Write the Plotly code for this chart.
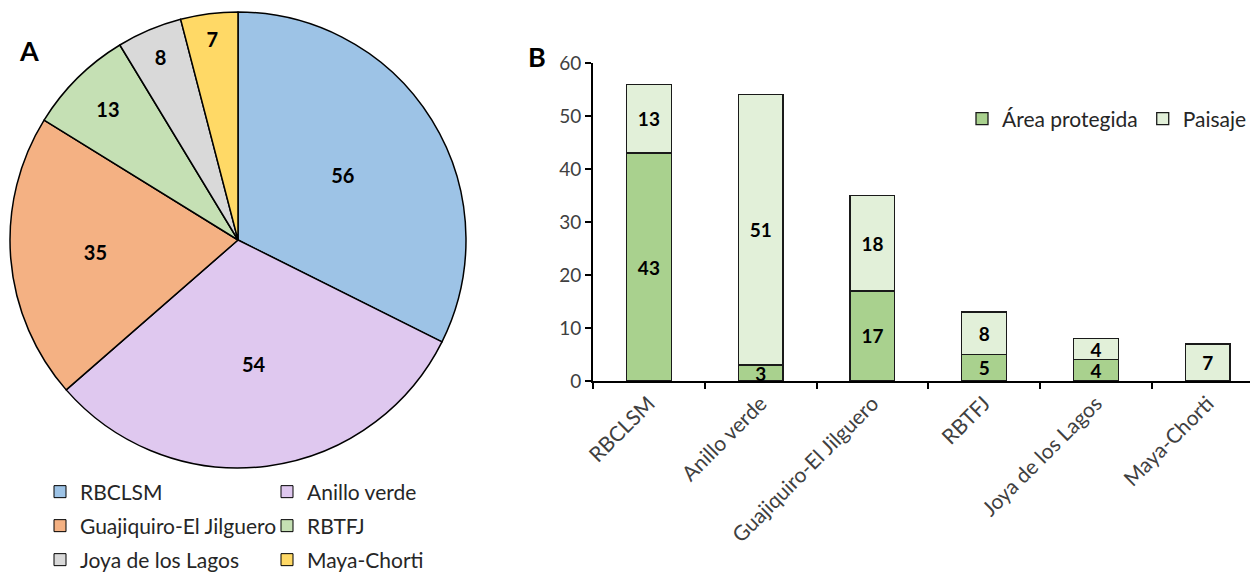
import plotly.graph_objects as go

# ---- data ----
sites = ["RBCLSM", "Anillo verde", "Guajiquiro-El Jilguero", "RBTFJ",
         "Joya de los Lagos", "Maya-Chorti"]
totals = [56, 54, 35, 13, 8, 7]
pie_colors = ["#9DC3E6", "#DFC8EF", "#F4B183", "#C5E0B4", "#D9D9D9", "#FFD966"]
protegida = [43, 3, 17, 5, 4, 0]
paisaje = [13, 51, 18, 8, 4, 7]
series_names = ["Área protegida", "Paisaje"]
series_colors = ["#A9D18E", "#E2F0D9"]
y_ticks = [0, 10, 20, 30, 40, 50, 60]

# page body has an 8px margin, so the figure is drawn 8px smaller
OFF = 8
W, H = 1258 - OFF, 572 - OFF
FONT = "Lato"


def px(x):
    return (x - OFF) / W


def py(y):
    return 1 - (y - OFF) / H


fig = go.Figure()

# ---- Pie (panel A) ----
fig.add_trace(go.Pie(
    labels=sites, values=totals, sort=False, direction="clockwise", rotation=0,
    marker=dict(colors=pie_colors, line=dict(color="black", width=1.5)),
    textinfo="value", textposition="inside", insidetextorientation="horizontal",
    textfont=dict(size=20, color="black", family=FONT, weight="bold"),
    domain=dict(x=[px(10), px(466)], y=[py(468), py(12)]),
    showlegend=False, hoverinfo="label+value",
))

# legend entries for the pie, two per row
legend_rows = ["legend2", "legend3", "legend4"]
for i, (s, c) in enumerate(zip(sites, pie_colors)):
    fig.add_trace(go.Bar(
        x=[None], y=[None], name=s, marker=dict(color=c, line=dict(color="black", width=1)),
        legend=legend_rows[i // 2], xaxis="x2", yaxis="y2", showlegend=True,
    ))

# ---- Stacked bars (panel B) ----
for name, vals, col in zip(series_names, [protegida, paisaje], series_colors):
    fig.add_trace(go.Bar(
        x=sites, y=vals, name=name,
        marker=dict(color=col, line=dict(color="#1a1a1a", width=1.3)),
        text=[str(v) if v else "" for v in vals],
        textposition="inside", insidetextanchor="middle", constraintext="none",
        textangle=0,
        textfont=dict(size=19, color="black", family=FONT, weight="bold"),
        legend="legend",
    ))

row_y = [492, 526, 560]
legend_common = dict(orientation="h", xanchor="left", yanchor="middle",
                     font=dict(size=21, family=FONT, color="#262626"),
                     bgcolor="rgba(0,0,0,0)", entrywidth=182, entrywidthmode="pixels",
                     traceorder="normal", itemclick=False, itemdoubleclick=False)

layout_legends = {}
for name, yy in zip(legend_rows, row_y):
    layout_legends[name] = dict(x=px(40), y=py(yy), **legend_common)

fig.update_layout(
    width=W, height=H,
    margin=dict(l=0, r=0, t=0, b=0, autoexpand=False),
    paper_bgcolor="white", plot_bgcolor="white",
    font=dict(family=FONT, size=19, color="#404040"),
    barmode="stack", bargap=0.6,
    xaxis=dict(domain=[px(593), 1], range=[-0.5, 5.45], type="category",
               tickangle=-45, tickson="boundaries", ticks="outside", ticklen=6,
               tickcolor="black", tickwidth=1.5,
               showline=True, linecolor="black", linewidth=2, showgrid=False,
               tickfont=dict(size=21, color="#404040"), anchor="y",
               categoryorder="array", categoryarray=sites),
    yaxis=dict(domain=[py(381), py(63)], range=[0, 60], tickvals=y_ticks,
               ticks="outside", ticklen=6, tickcolor="black", tickwidth=1.5,
               showline=True, linecolor="black", linewidth=2, showgrid=False,
               zeroline=False, tickfont=dict(size=19, color="#404040"), anchor="x"),
    xaxis2=dict(visible=False, domain=[0, 0.01], anchor="y2"),
    yaxis2=dict(visible=False, domain=[0, 0.01], anchor="x2"),
    legend=dict(orientation="h", x=px(962), y=py(119), xanchor="left", yanchor="middle",
                font=dict(size=21, family=FONT, color="#262626"),
                bgcolor="rgba(0,0,0,0)", traceorder="normal",
                itemclick=False, itemdoubleclick=False),
    **layout_legends,
    annotations=[
        dict(text="<b>A</b>", x=px(29), y=py(50), xref="paper", yref="paper",
             xanchor="center", yanchor="middle",
             showarrow=False, font=dict(size=27, color="black", family=FONT)),
        dict(text="<b>B</b>", x=px(537), y=py(57), xref="paper", yref="paper",
             xanchor="center", yanchor="middle",
             showarrow=False, font=dict(size=27, color="black", family=FONT)),
    ],
)

fig.write_html("out.html")
